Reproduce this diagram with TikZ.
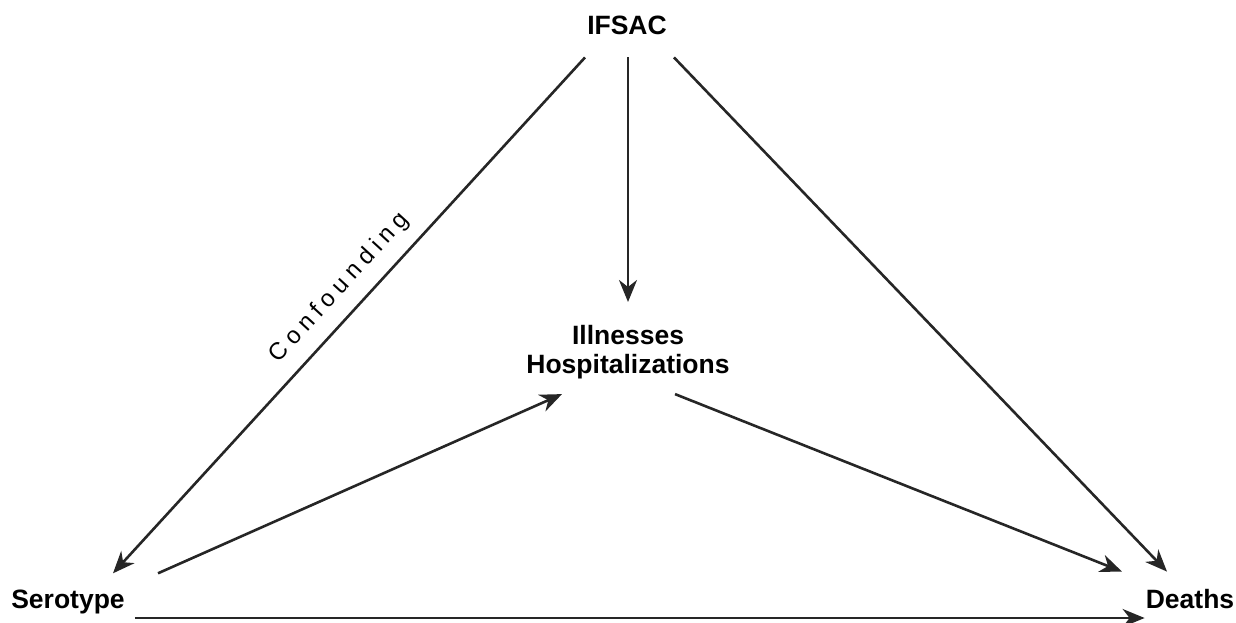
\documentclass[tikz,border=0pt]{standalone}
\usepackage{fontspec}
\setmainfont{Liberation Sans}
\usetikzlibrary{arrows.meta,calc}
\begin{document}
\begin{tikzpicture}[x=1pt,y=-1pt,
  lbl/.style={font=\fontsize{26.5}{29}\selectfont\bfseries, inner sep=0pt, align=center},
  arr/.style={line width=2.6pt, draw=black!85, -{Stealth[length=22pt,width=18pt,inset=7pt]}},
  conf/.style={font=\fontsize{24}{26}\selectfont\addfontfeature{LetterSpace=24}, inner sep=0pt}]
\useasboundingbox (0,0) rectangle (1236,623);
\node[lbl, anchor=base] (ifsac) at (627,35) {IFSAC};
\node[lbl, anchor=north] (ill) at (628,325) {Illnesses\\Hospitalizations};
\node[lbl, anchor=base] (sero) at (68,608) {Serotype};
\node[lbl, anchor=base] (deaths) at (1190,608) {Deaths};

\draw[arr] ($(ifsac.south)+(-42,22)$) -- node[conf, pos=0.48, sloped, above=13pt] {Confounding} ($(sero.north)+(45,-16)$);
\draw[arr] ($(ifsac.south)+(1,22)$) -- ($(ill.north)+(0,-23)$);
\draw[arr] ($(ifsac.south)+(47,22)$) -- ($(deaths.north)+(-23,-17)$);
\draw[arr] ($(sero.north)+(90,-16)$) -- ($(ill.south)+(-66,15)$);
\draw[arr] ($(ill.south)+(47,15)$) -- ($(deaths.north)+(-68,-17)$);
\draw[arr] ($(sero.base east)+(10,10)$) -- ($(deaths.base west)+(-1,10)$);
\end{tikzpicture}
\end{document}
